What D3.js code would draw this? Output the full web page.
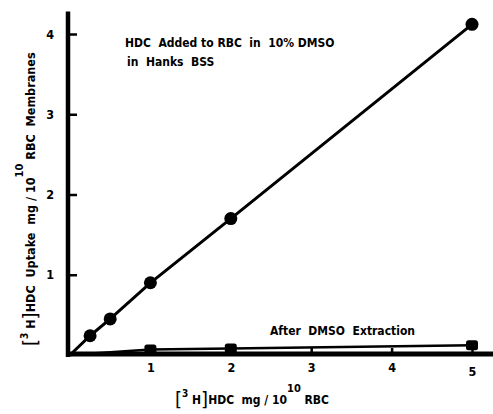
<!DOCTYPE html>
<html><head><meta charset="utf-8">
<script src="https://cdn.jsdelivr.net/npm/d3@7"></script>
<style>
body{margin:0;background:#fff;}
svg{display:block;}
text{font-family:"DejaVu Sans Condensed","DejaVu Sans",sans-serif;font-weight:bold;fill:#000;white-space:pre;}
</style></head><body>
<svg id="c" width="493" height="414"></svg>
<script>
// Data
const xTicks = [1, 2, 3, 4, 5];
const yTicks = [1, 2, 3, 4];
const doseDMSO = [0, 0.25, 0.5, 1, 2, 5];
const uptakeDMSO = [0, 0.24, 0.45, 0.9, 1.7, 4.12];
const doseExtract = [0, 1, 2, 5];
const uptakeExtract = [0, 0.07, 0.08, 0.12];
const labelDMSO1 = "HDC  Added to RBC  in  10% DMSO";
const labelDMSO2 = "in  Hanks  BSS";
const labelExtract = "After  DMSO  Extraction";

const svg = d3.select("#c");
const x = d3.scaleLinear().domain([0, 5]).range([70, 472]);
const y = d3.scaleLinear().domain([0, 4]).range([355, 34]);

// axes
const gx = svg.append("g").attr("transform", `translate(0,${y(0)-1})`)
  .call(d3.axisBottom(x).tickValues(xTicks).tickFormat(d3.format("d")).tickSizeInner(-6).tickSizeOuter(0).tickPadding(9));
const gy = svg.append("g").attr("transform", `translate(${x(0)},0)`)
  .call(d3.axisLeft(y).tickValues(yTicks).tickFormat(d3.format("d")).tickSizeInner(-7).tickSizeOuter(0).tickPadding(16));
[gx, gy].forEach(g => {
  g.select(".domain").remove();
  g.selectAll(".tick line").attr("stroke", "#000").attr("stroke-width", 2.5);
  g.selectAll(".tick text").attr("font-size", 12.5).attr("font-family", "DejaVu Sans Condensed").attr("font-weight", "bold").attr("fill", "#000");
});
gx.selectAll(".tick text").attr("dy", (d) => d === 5 ? "1.05em" : "0.71em");

svg.append("line").attr("x1", x(0)-2).attr("x2", x(0)-2).attr("y1", y(4.28)).attr("y2", y(0)+2)
  .attr("stroke", "#000").attr("stroke-width", 4.5);
svg.append("line").attr("x1", x(0)-4).attr("x2", 493).attr("y1", y(0)-1).attr("y2", y(0)-1)
  .attr("stroke", "#000").attr("stroke-width", 5);

// lines
const line = d3.line().x(d => x(d[0])).y(d => y(d[1]));
const ptsA = doseDMSO.map((d, i) => [d, uptakeDMSO[i]]);
const ptsB = doseExtract.map((d, i) => [d, uptakeExtract[i]]);
svg.append("path").attr("d", line(ptsB)).attr("fill", "none").attr("stroke", "#000").attr("stroke-width", 2.5);
svg.append("path").attr("d", line(ptsA)).attr("fill", "none").attr("stroke", "#000").attr("stroke-width", 3);

svg.selectAll("circle.pa").data(ptsA.slice(1)).enter().append("circle")
  .attr("cx", d => x(d[0])).attr("cy", d => y(d[1])).attr("r", 6.5).attr("fill", "#000");
svg.selectAll("rect.pb").data(ptsB.slice(1)).enter().append("rect")
  .attr("x", d => x(d[0]) - 6).attr("y", d => y(d[1]) - 5).attr("width", 12).attr("height", 10)
  .attr("rx", 2.5).attr("fill", "#000");

// annotations
svg.append("text").attr("x", 125).attr("y", 47).attr("font-size", 12).text(labelDMSO1);
svg.append("text").attr("x", 127).attr("y", 66).attr("font-size", 12).text(labelDMSO2);
svg.append("text").attr("x", 270).attr("y", 335).attr("font-size", 12).text(labelExtract);

// x axis title
const xt = svg.append("text").attr("x", 175).attr("y", 404).attr("font-size", 12);
xt.append("tspan").attr("font-size", 20).attr("font-weight", "normal").attr("dy", 2).text("[");
xt.append("tspan").attr("font-size", 10).attr("dy", -9).text("3");
xt.append("tspan").attr("dy", 7).text(" H");
xt.append("tspan").attr("font-size", 20).attr("font-weight", "normal").attr("dy", 2).text("]");
xt.append("tspan").attr("dy", -2).text("HDC  mg / 10");
xt.append("tspan").attr("font-size", 11).attr("dy", -12).text("10");
xt.append("tspan").attr("dy", 12).text(" RBC");

// y axis title
const yt = svg.append("text").attr("transform", "translate(35,346) rotate(-90)").attr("font-size", 12.5);
yt.append("tspan").attr("font-size", 20).attr("font-weight", "normal").attr("dy", 2).text("[");
yt.append("tspan").attr("font-size", 10).attr("dy", -9).text("3");
yt.append("tspan").attr("dy", 7).text(" H");
yt.append("tspan").attr("font-size", 20).attr("font-weight", "normal").attr("dy", 2).text("]");
yt.append("tspan").attr("dy", -2).text("HDC  Uptake  mg / 10");
yt.append("tspan").attr("font-size", 11).attr("dy", -12).text("10");
yt.append("tspan").attr("dy", 12).text(" RBC  Membranes");
</script></body></html>
